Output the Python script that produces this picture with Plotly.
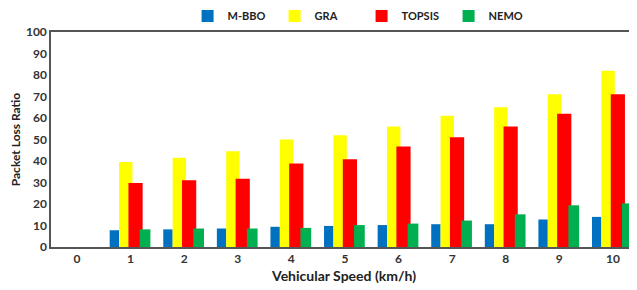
import plotly.graph_objects as go

speeds = [0, 1, 2, 3, 4, 5, 6, 7, 8, 9, 10]
mbbo = [None, 7.8, 8.2, 8.6, 9.4, 9.8, 10.2, 10.6, 10.6, 12.8, 14.0]
gra = [None, 39.5, 41.5, 44.5, 50.0, 52.0, 56.0, 61.0, 65.0, 71.0, 82.0]
topsis = [None, 29.8, 31.0, 31.8, 38.8, 40.8, 46.8, 51.0, 56.0, 62.0, 71.0]
nemo = [None, 8.2, 8.6, 8.6, 8.9, 10.2, 10.9, 12.3, 15.2, 19.4, 20.3]
series_names = ["M-BBO", "GRA", "TOPSIS", "NEMO"]
colors = ["#0070C0", "#FFFF00", "#FF0000", "#00B050"]
offsets = [-0.39, -0.215, -0.04, 0.17]
widths = [0.175, 0.25, 0.265, 0.2]

fig = go.Figure()
for name, vals, c, off, w in zip(series_names, [mbbo, gra, topsis, nemo], colors, offsets, widths):
    fig.add_trace(go.Bar(x=speeds, y=vals, name=name, marker_color=c,
                         marker_line_width=0, offset=off, width=w))

font_family = "Lato, 'Open Sans', sans-serif"
fig.update_layout(
    barmode="overlay",
    width=629, height=282,
    margin=dict(l=43, r=0, t=24, b=43, autoexpand=False),
    plot_bgcolor="white", paper_bgcolor="white",
    font=dict(family=font_family, size=12, color="#333333"),
    legend=dict(orientation="h", x=0.53, xanchor="center", y=1.075, yanchor="middle",
                bgcolor="rgba(0,0,0,0)",
                font=dict(size=11, color="#222222", family=font_family, weight="bold"),
                itemwidth=30, tracegroupgap=0, entrywidth=42),
    showlegend=True,
)
fig.update_xaxes(
    range=[-0.485, 10.45], tickvals=speeds, ticktext=[str(s) for s in speeds],
    showline=True, linecolor="#555555", linewidth=1.5, mirror=True,
    showgrid=False, ticks="", zeroline=False,
    tickfont=dict(size=12, color="#333333", weight="bold"),
    title=dict(text="Vehicular Speed (km/h)", font=dict(size=14, color="#222222", weight="bold"), standoff=6),
)
fig.update_yaxes(
    range=[0, 100], tickvals=list(range(0, 101, 10)),
    showline=True, linecolor="#555555", linewidth=1.5,
    showgrid=False, ticks="", zeroline=False,
    tickfont=dict(size=12, color="#333333", weight="bold"),
    title=dict(text="Packet Loss Ratio", font=dict(size=12, color="#222222", weight="bold"), standoff=7),
)
fig.write_html("out.html")
